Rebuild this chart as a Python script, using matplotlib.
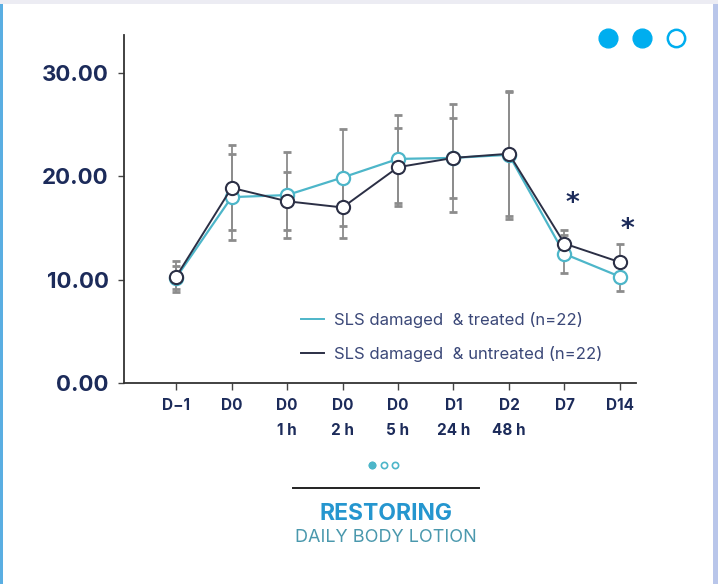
import matplotlib.pyplot as plt
from matplotlib.lines import Line2D
from matplotlib.patches import Rectangle

# data
labels = ["D\u22121", "D0", "D0\n1 h", "D0\n2 h", "D0\n5 h", "D1\n24 h", "D2\n48 h", "D7", "D14"]
treated = [10.2, 18.0, 18.2, 19.9, 21.7, 21.8, 22.1, 12.5, 10.3]
treated_err = [1.1, 4.2, 4.2, 4.7, 4.3, 5.2, 6.2, 1.8, 1.4]
untreated = [10.3, 18.9, 17.6, 17.0, 20.9, 21.8, 22.2, 13.5, 11.7]
untreated_err = [1.5, 4.1, 2.8, 3.0, 3.8, 3.9, 6.0, 1.3, 1.8]
star_pos = [7.15, 8.13]
star_y = [17.3, 14.8]
yticks = [0, 10, 20, 30]

navy = "#1c2b5a"
teal = "#4db6c9"
dark = "#2b2f45"
grey = "#8c8c8c"

plt.rcParams['font.family'] = ['Inter', 'DejaVu Sans']

fig = plt.figure(figsize=(7.18, 5.84), dpi=100)
fig.patch.set_facecolor("white")

# card edges
fig.add_artist(Rectangle((0, 0), 3/718, 1, transform=fig.transFigure, color="#5aaee2", lw=0))
fig.add_artist(Rectangle((713/718, 0), 5/718, 1, transform=fig.transFigure, color="#b9c6ea", lw=0))
fig.add_artist(Rectangle((0, 1-4/584), 1, 4/584, transform=fig.transFigure, color="#ececf3", lw=0))

ax = fig.add_axes([124/718, 1-383/584, 512/718, 348/584])
x = list(range(len(labels)))

ax.errorbar(x, treated, yerr=treated_err, fmt="none", ecolor=grey, elinewidth=1.3,
            capsize=3, capthick=2, zorder=1)
ax.errorbar(x, untreated, yerr=untreated_err, fmt="none", ecolor=grey, elinewidth=1.3,
            capsize=3, capthick=2, zorder=1)
ax.plot(x, treated, color=teal, lw=1.6, marker="o", ms=9.5, mfc="white", mec=teal, mew=1.6, zorder=3)
ax.plot(x, untreated, color=dark, lw=1.4, marker="o", ms=9.5, mfc="white", mec=dark, mew=1.5, zorder=4)

for sx, sy in zip(star_pos, star_y):
    ax.text(sx, sy, "*", fontsize=19, fontweight="bold", color=navy, ha="center", va="center",
            family="DejaVu Sans")

ax.set_xlim(-0.94, 8.29)
ax.set_ylim(0, 33.7)
ax.set_yticks(yticks)
ax.set_yticklabels([f"{v:.2f}" for v in yticks], fontsize=16, fontweight="bold", color=navy)
ax.set_xticks(x)
ax.set_xticklabels(labels, fontsize=11, fontweight="bold", color=navy, linespacing=1.85, va="top")
ax.tick_params(axis="y", length=4, width=1, color="#444444", pad=7)
ax.tick_params(axis="x", length=5, width=1, color="#444444", pad=6)
for s in ["top", "right"]:
    ax.spines[s].set_visible(False)
for s in ["left", "bottom"]:
    ax.spines[s].set_color("#333333")
    ax.spines[s].set_linewidth(1.3)

handles = [Line2D([], [], color=teal, lw=1.4), Line2D([], [], color=dark, lw=1.4)]
fig.legend(handles, ["SLS damaged  & treated (n=22)", "SLS damaged  & untreated (n=22)"],
           loc="upper left", bbox_to_anchor=(286/718, 1-297/584), frameon=False,
           fontsize=12, labelcolor="#3b4878", handlelength=1.4, handletextpad=0.6,
           labelspacing=1.05)

# footer
fig.add_artist(Line2D([372/718, 383.5/718, 395/718], [1-465/584]*3, transform=fig.transFigure,
                      ls="none", marker="o", ms=4.5, mfc="white", mec=teal, mew=1.2))
fig.add_artist(Line2D([372/718], [1-465/584], transform=fig.transFigure,
                      ls="none", marker="o", ms=4.5, mfc=teal, mec=teal))
fig.add_artist(Line2D([293/718, 479/718], [1-488/584]*2, transform=fig.transFigure,
                      color="#222222", lw=1.4))
fig.text(386/718, 1-514/584, "RESTORING", fontsize=16.5, fontweight="bold", color="#2596cf",
         ha="center", va="center")
fig.text(386/718, 1-538/584, "DAILY BODY LOTION", fontsize=13, fontweight="normal",
         color="#4a98ad", ha="center", va="center")

# page dots
fig.add_artist(Line2D([608/718, 642/718], [1-38/584]*2, transform=fig.transFigure,
                      ls="none", marker="o", ms=13.5, color="#00aeef"))
fig.add_artist(Line2D([676/718], [1-38/584], transform=fig.transFigure,
                      ls="none", marker="o", ms=12.5, mfc="white", mec="#00aeef", mew=1.8))

fig.savefig("out.png", dpi=100)
